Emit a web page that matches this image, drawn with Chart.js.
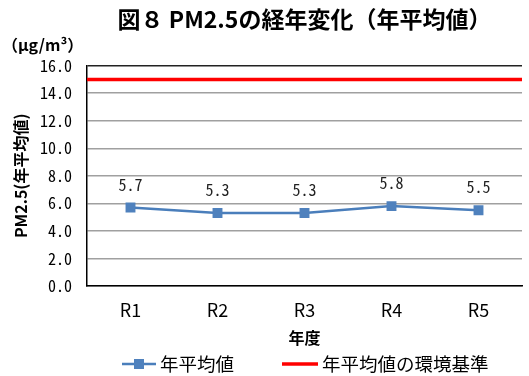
<!DOCTYPE html>
<html>
<head>
<meta charset="utf-8">
<script src="https://cdn.jsdelivr.net/npm/chart.js@4/dist/chart.umd.min.js"></script>
<style>
  html, body { margin: 0; padding: 0; background: #fff; }
</style>
</head>
<body>
<canvas id="myChart" width="529" height="376"></canvas>
<script>
const years = ['R1', 'R2', 'R3', 'R4', 'R5'];
const annualMean = [5.7, 5.3, 5.3, 5.8, 5.5];
const standardValue = 15;
const yTicks = [0, 2, 4, 6, 8, 10, 12, 14, 16];

const jp = '"Noto Sans CJK JP", "Noto Sans", sans-serif';
const mono = '"Noto Sans Mono CJK JP", "Liberation Mono", monospace';

const unitLabel = {
    id: 'unitLabel',
    afterDraw(chart) {
        const ctx = chart.ctx;
        ctx.save();
        ctx.font = 'bold 16px ' + jp;
        ctx.fillStyle = '#000';
        ctx.textBaseline = 'middle';
        ctx.fillText('（μg/m³）', 2, 45);
        ctx.restore();
    }
};

// value text above each point of the first series
const valueLabels = {
    id: 'valueLabels',
    afterDatasetsDraw(chart) {
        const ctx = chart.ctx;
        const meta = chart.getDatasetMeta(0);
        ctx.save();
        ctx.font = '16px ' + mono;
        ctx.fillStyle = '#222';
        ctx.textAlign = 'center';
        ctx.textBaseline = 'middle';
        meta.data.forEach(function (pt, i) {
            ctx.fillText(annualMean[i].toFixed(1), pt.x, pt.y - 23);
        });
        ctx.restore();
    }
};

// legend row under the x axis title
const legendRow = {
    id: 'legendRow',
    afterDraw(chart) {
        const ctx = chart.ctx;
        const ds = chart.data.datasets;
        const y = 364;
        const items = [
            { x: 122, w: 34, marker: true },
            { x: 282, w: 36, marker: false }
        ];
        ctx.save();
        ctx.font = '18.5px ' + jp;
        ctx.textBaseline = 'middle';
        items.forEach(function (it, i) {
            ctx.strokeStyle = ds[i].borderColor;
            ctx.lineWidth = ds[i].borderWidth;
            ctx.beginPath();
            ctx.moveTo(it.x, y);
            ctx.lineTo(it.x + it.w, y);
            ctx.stroke();
            if (it.marker) {
                ctx.fillStyle = ds[i].backgroundColor;
                ctx.fillRect(it.x + it.w / 2 - 5, y - 5, 10, 10);
            }
            ctx.fillStyle = '#000';
            ctx.fillText(ds[i].label, it.x + it.w + 4, y);
        });
        ctx.restore();
    }
};

const ctx = document.getElementById('myChart');
new Chart(ctx, {
    type: 'line',
    data: {
        labels: years,
        datasets: [{
            label: '年平均値',
            data: annualMean,
            borderColor: '#4A7EBB',
            backgroundColor: '#4F81BD',
            borderWidth: 2.5,
            pointStyle: 'rect',
            pointRadius: 7,
            pointBorderWidth: 0,
            tension: 0
        },
        {
            label: '年平均値の環境基準',
            data: [{ x: 0, y: standardValue }, { x: 5, y: standardValue }],
            xAxisID: 'x2',
            borderColor: '#FF0000',
            backgroundColor: '#FF0000',
            borderWidth: 3.5,
            pointRadius: 0
        }]
    },
    options: {
        responsive: false,
        animation: false,
        devicePixelRatio: 1,
        layout: { padding: { left: 0, right: 0, top: 0, bottom: 28 } },
        scales: {
            x: {
                type: 'category',
                offset: true,
                afterFit(scale) { scale.height = 62; },
                grid: { display: false, drawTicks: false },
                border: { color: '#000', width: 1.5 },
                ticks: { color: '#000', font: { size: 18, family: jp }, padding: 13 },
                title: {
                    display: true, text: '年度', color: '#000',
                    font: { size: 16, weight: 'bold', family: jp }, padding: { top: 0, bottom: 0 }
                }
            },
            x2: {
                type: 'linear',
                display: false,
                min: 0,
                max: 5
            },
            y: {
                min: 0,
                max: 16,
                afterBuildTicks(scale) {
                    scale.ticks = yTicks.map(v => ({ value: v }));
                },
                afterFit(scale) { scale.width = 87; },
                grid: {
                    drawTicks: false,
                    color: ctx => ctx.tick && ctx.tick.value === 16 ? '#222' : '#A0A0A0',
                    lineWidth: 1.5
                },
                border: { color: '#000', width: 1.5 },
                ticks: {
                    color: '#000',
                    font: { size: 16, family: mono },
                    padding: 15,
                    callback: v => v.toFixed(1)
                },
                title: {
                    display: true, text: 'PM2.5(年平均値)', color: '#000',
                    font: { size: 16, weight: 'bold', family: jp }, padding: { top: 11, bottom: 0 }
                }
            }
        },
        plugins: {
            title: {
                display: true,
                fullSize: false,
                text: '図８ PM2.5の経年変化（年平均値）',
                color: '#000',
                font: { size: 23, weight: 'bold', family: jp },
                padding: { top: 5, bottom: 33 }
            },
            legend: { display: false },
            tooltip: { enabled: false }
        }
    },
    plugins: [unitLabel, valueLabels, legendRow]
});
</script>
</body>
</html>
